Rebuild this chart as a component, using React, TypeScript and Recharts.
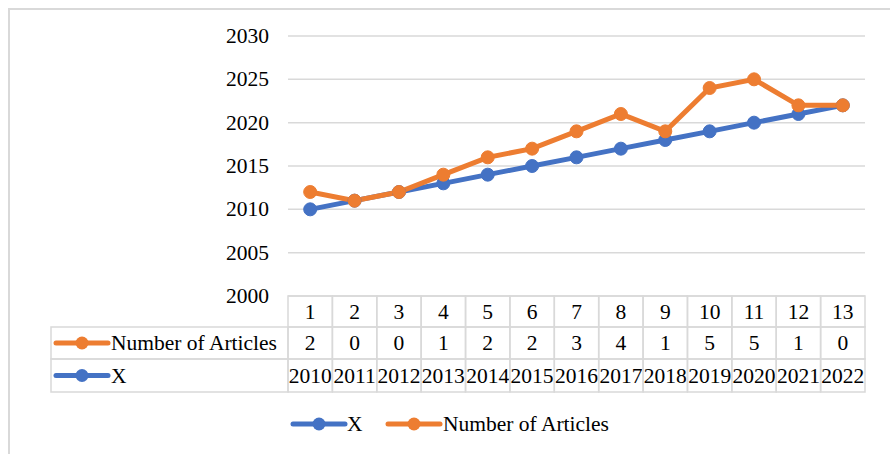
import React from 'react';
import { ComposedChart, Area, XAxis, YAxis, CartesianGrid } from 'recharts';

const categories = ['1', '2', '3', '4', '5', '6', '7', '8', '9', '10', '11', '12', '13'];
const years = [2010, 2011, 2012, 2013, 2014, 2015, 2016, 2017, 2018, 2019, 2020, 2021, 2022];
const articles = [2, 0, 0, 1, 2, 2, 3, 4, 1, 5, 5, 1, 0];
const yTicks = [2000, 2005, 2010, 2015, 2020, 2025, 2030];

const data = categories.map((c, i) => ({ category: c, x: years[i], articles: articles[i] }));

const BLUE = '#4472C4';
const ORANGE = '#ED7D31';
const GRID = '#D9D9D9';
const FONT = '"Liberation Serif", "Times New Roman", serif';
const FS = 21.5;
const textStyle = { fontFamily: FONT, fontSize: FS };

// table layout
const PLOT_LEFT = 288;
const PLOT_RIGHT = 865;
const COL_W = (PLOT_RIGHT - PLOT_LEFT) / categories.length;
const TABLE_LEFT = 51;
const ROW1_TOP = 296;
const ROW2_TOP = 327;
const ROW3_TOP = 359;
const TABLE_BOTTOM = 392;

const KeyLine = ({ x, y, color }: { x: number; y: number; color: string }) => (
  <g>
    <line x1={x} y1={y} x2={x + 52} y2={y} stroke={color} strokeWidth={5} strokeLinecap="round" />
    <circle cx={x + 26} cy={y} r={6.5} fill={color} />
  </g>
);

const YTick = (props: any) => {
  const { x, y, payload } = props;
  return (
    <text x={x} y={y} textAnchor="end" dominantBaseline="central" style={textStyle} fill="#000">
      {payload.value}
    </text>
  );
};

const TableTick = (props: any) => {
  const { x, index } = props;
  const left = x - COL_W / 2;
  const cell = (top: number, bottom: number, text: string | number) => (
    <g>
      <rect x={left} y={top} width={COL_W} height={bottom - top} fill="none" stroke={GRID} strokeWidth={1.5} />
      <text x={x} y={(top + bottom) / 2} textAnchor="middle" dominantBaseline="central" style={textStyle} fill="#000">
        {text}
      </text>
    </g>
  );
  return (
    <g>
      {cell(ROW1_TOP, ROW2_TOP, categories[index])}
      {cell(ROW2_TOP, ROW3_TOP, articles[index])}
      {cell(ROW3_TOP, TABLE_BOTTOM, years[index])}
      {index === 0 && (
        <g>
          <rect x={TABLE_LEFT} y={ROW2_TOP} width={PLOT_LEFT - TABLE_LEFT} height={ROW3_TOP - ROW2_TOP} fill="none" stroke={GRID} strokeWidth={1.5} />
          <rect x={TABLE_LEFT} y={ROW3_TOP} width={PLOT_LEFT - TABLE_LEFT} height={TABLE_BOTTOM - ROW3_TOP} fill="none" stroke={GRID} strokeWidth={1.5} />
          <KeyLine x={56} y={(ROW2_TOP + ROW3_TOP) / 2} color={ORANGE} />
          <text x={111} y={(ROW2_TOP + ROW3_TOP) / 2} dominantBaseline="central" style={textStyle} fill="#000">
            Number of Articles
          </text>
          <KeyLine x={56} y={(ROW3_TOP + TABLE_BOTTOM) / 2} color={BLUE} />
          <text x={111} y={(ROW3_TOP + TABLE_BOTTOM) / 2} dominantBaseline="central" style={textStyle} fill="#000">
            X
          </text>
        </g>
      )}
    </g>
  );
};

const App: React.FC = () => {
  return (
    <div style={{ position: 'absolute', left: 0, top: 0, width: 890, height: 454, background: '#fff', overflow: 'hidden', fontFamily: FONT }}>
      <div style={{ position: 'absolute', left: 8, top: 8, width: 950, height: 500, border: `2px solid ${GRID}` }} />
      <div style={{ position: 'absolute', left: 0, top: 0 }}>
        <ComposedChart width={890} height={454} data={data} margin={{ top: 36, right: 25, left: 228, bottom: 0 }}>
          <CartesianGrid vertical={false} stroke={GRID} strokeWidth={1.5} />
          <XAxis
            dataKey="category"
            scale="band"
            height={158}
            axisLine={false}
            tickLine={false}
            interval={0}
            tick={<TableTick />}
          />
          <YAxis
            type="number"
            domain={[2000, 2030]}
            ticks={yTicks}
            allowDataOverflow
            width={60}
            axisLine={false}
            tickLine={false}
            tickSize={0}
            tickMargin={19}
            tick={<YTick />}
          />
          <Area
            type="linear"
            dataKey="x"
            name="X"
            stackId="s"
            stroke={BLUE}
            strokeWidth={5}
            fill="none"
            dot={{ r: 6.5, fill: BLUE, fillOpacity: 1, stroke: BLUE, strokeWidth: 1 }}
            activeDot={false}
            isAnimationActive={false}
          />
          <Area
            type="linear"
            dataKey="articles"
            name="Number of Articles"
            stackId="s"
            stroke={ORANGE}
            strokeWidth={5}
            fill="none"
            dot={{ r: 6.5, fill: ORANGE, fillOpacity: 1, stroke: ORANGE, strokeWidth: 1 }}
            activeDot={false}
            isAnimationActive={false}
          />
        </ComposedChart>
      </div>
      <svg style={{ position: 'absolute', left: 0, top: 400 }} width={890} height={50}>
        <KeyLine x={293} y={24} color={BLUE} />
        <text x={347} y={24} dominantBaseline="central" style={textStyle} fill="#000">X</text>
        <KeyLine x={388} y={24} color={ORANGE} />
        <text x={443} y={24} dominantBaseline="central" style={textStyle} fill="#000">Number of Articles</text>
      </svg>
    </div>
  );
};

export default App;
